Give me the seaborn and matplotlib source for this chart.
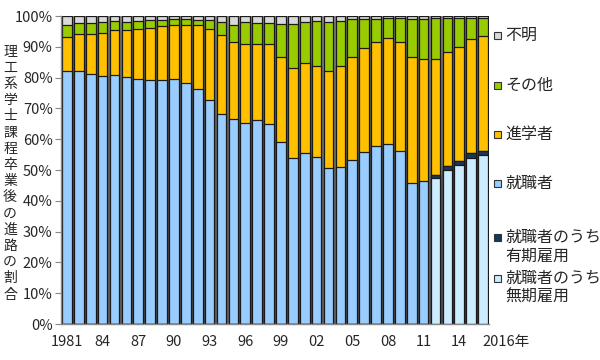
import numpy as np
import pandas as pd
import matplotlib
matplotlib.use("Agg")
import matplotlib.pyplot as plt
import seaborn as sns
from matplotlib.patches import Rectangle

# ================================
# Data (percent of graduates)
# ================================
years = list(range(1981, 2017))

muki = [0.0] * 31 + [47.3, 49.9, 51.6, 53.9, 54.9]   # 就職者のうち無期雇用
yuki = [0.0] * 31 + [1.2, 1.4, 1.3, 1.5, 1.4]        # 就職者のうち有期雇用
shushoku = [82.1, 82.1, 81.2, 80.6, 80.7, 80.2, 79.6, 79.2, 79.2, 79.4,
            78.1, 76.3, 72.7, 68.2, 66.5, 65.4, 66.2, 64.9, 59.2, 54.0,
            55.6, 54.1, 50.7, 50.9, 53.1, 55.7, 57.8, 58.4, 56.2, 45.9,
            46.5, 0.0, 0.0, 0.0, 0.0, 0.0]
shingaku = [11.0, 12.2, 13.0, 13.9, 14.8, 15.1, 16.1, 17.0, 17.6, 17.8,
            19.1, 20.8, 23.2, 25.6, 25.2, 25.6, 24.8, 25.9, 27.6, 29.2,
            29.3, 29.8, 31.4, 32.9, 33.5, 34.0, 33.9, 34.5, 35.5, 40.9,
            39.4, 37.6, 37.1, 37.1, 37.2, 37.1]
sonota = [4.1, 3.3, 3.5, 3.5, 3.0, 2.9, 2.8, 2.4, 1.8, 1.8,
          1.8, 1.7, 2.7, 4.2, 5.5, 6.9, 6.8, 6.8, 10.7, 14.1,
          13.0, 14.5, 15.9, 14.7, 12.3, 9.4, 7.4, 6.3, 7.5, 12.2,
          13.1, 13.1, 10.8, 9.3, 6.8, 6.1]
fumei = [2.8, 2.4, 2.3, 2.0, 1.5, 1.8, 1.5, 1.4, 1.4, 1.0,
         1.0, 1.2, 1.4, 2.0, 2.8, 2.1, 2.2, 2.4, 2.5, 2.7,
         2.1, 1.6, 2.0, 1.5, 1.1, 0.9, 0.9, 0.8, 0.8, 1.0,
         1.0, 0.8, 0.8, 0.7, 0.6, 0.5]

tick_years = [1981, 1984, 1987, 1990, 1993, 1996, 1999, 2002, 2005, 2008, 2011, 2014]
tick_labels = ["1981", "84", "87", "90", "93", "96", "99", "02", "05", "08", "11", "14"]
last_label = "2016年"
ylabel = "理工系学士課程卒業後の進路の割合"

# bottom -> top
layers = [
    ("就職者のうち\n無期雇用", muki, "#CCECFF"),
    ("就職者のうち\n有期雇用", yuki, "#17375E"),
    ("就職者", shushoku, "#99CCFF"),
    ("進学者", shingaku, "#FFC000"),
    ("その他", sonota, "#99CC00"),
    ("不明", fumei, "#D9D9D9"),
]

# ================================
# Plot
# ================================
sns.set_theme(style="white")
plt.rcParams['font.family'] = ['Noto Sans CJK JP', 'DejaVu Sans']

fig = plt.figure(figsize=(6, 3.6), dpi=100)
ax = fig.add_axes([61 / 600, 36 / 360, 428 / 600, 308 / 360])

df = pd.DataFrame({"year": [str(y) for y in years]})
cum = np.zeros(len(years))
cums = []
for name, vals, col in layers:
    cum = cum + np.array(vals)
    cums.append((name, cum.copy(), col))

# grey gaps between the bars (shadow look of the original)
df["v"] = cums[-1][1]
sns.barplot(data=df, x="year", y="v", color="#8a8a8a", saturation=1, width=1.0,
            linewidth=0, ax=ax, errorbar=None)

# draw from the top layer down so lower segments sit in front
for name, c, col in reversed(cums):
    df["v"] = c
    sns.barplot(data=df, x="year", y="v", color=col, saturation=1, width=0.82,
                edgecolor="#1a1a1a", linewidth=0.9, ax=ax, errorbar=None)

ax.set_xlim(-0.5, len(years) - 0.5)
ax.set_ylim(0, 100)
ax.set_yticks(np.arange(0, 101, 10))
ax.set_yticklabels([f"{v}%" for v in range(0, 101, 10)], fontsize=10.5)
ax.set_xticks([years.index(y) for y in tick_years])
ax.set_xticklabels(tick_labels, fontsize=10.5)
ax.text(len(years) - 1.05, -0.06, last_label, transform=ax.get_xaxis_transform(),
        ha="left", va="center", fontsize=10.5)
ax.set_xlabel(""); ax.set_ylabel("")
ax.tick_params(axis="y", length=4, width=0.8, color="#888888", pad=2, left=True)
ax.tick_params(axis="x", length=0, pad=8)
for s in ["top", "right"]:
    ax.spines[s].set_visible(False)
for s in ["left", "bottom"]:
    ax.spines[s].set_color("#888888")
    ax.spines[s].set_linewidth(1)

fig.text(10 / 600, 1 - 173 / 360, "\n".join(ylabel), ha="center", va="center",
         fontsize=10, linespacing=1.2)

# legend (manual, to follow the original spacing)
legend_y = {"不明": 35, "その他": 85, "進学者": 134, "就職者": 183,
            "就職者のうち\n有期雇用": 237, "就職者のうち\n無期雇用": 278}
for name, vals, col in layers:
    y = legend_y[name]
    fig.patches.append(Rectangle((494 / 600, 1 - (y + 4) / 360), 7 / 600, 7 / 360,
                                 transform=fig.transFigure, facecolor=col,
                                 edgecolor="#333333", linewidth=0.8))
    lines = name.split("\n")
    for i, ln in enumerate(lines):
        fig.text(505 / 600, 1 - (y + i * 19) / 360, ln, ha="left", va="center",
                 fontsize=11.5)

fig.savefig("out.png", dpi=100)
